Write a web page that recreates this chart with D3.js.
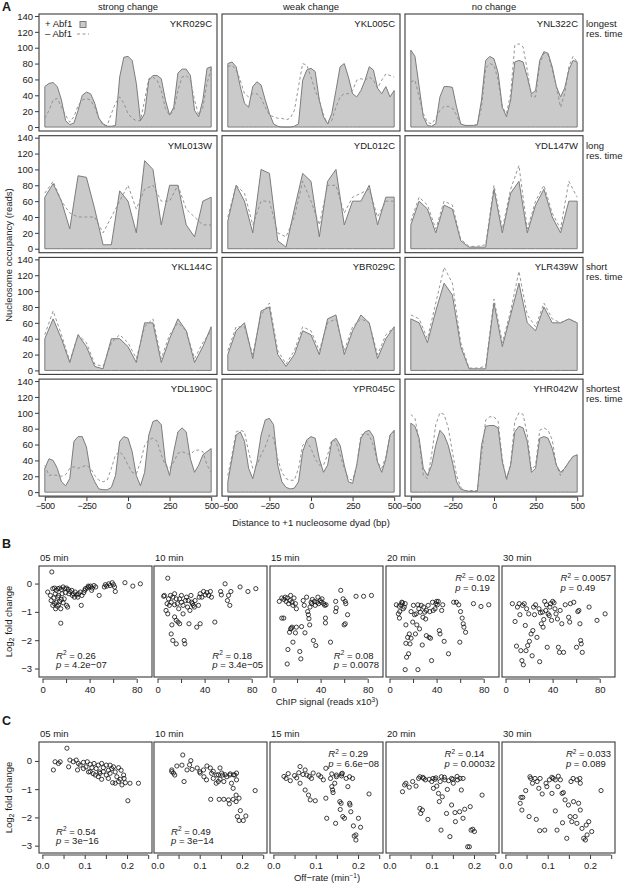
<!DOCTYPE html>
<html>
<head>
<meta charset="utf-8">
<script src="https://cdn.jsdelivr.net/npm/d3@7"></script>
<style>
body { margin: 0; background: #fff; }
svg text { font-family: "Liberation Sans", Arial, Helvetica, sans-serif; font-size: 9.5px; fill: #1a1a1a; }
</style>
</head>
<body>
<svg id="fig" width="626" height="884"></svg>
<script>
// ---------------- panel A data (occupancy, reads) ----------------
const changeGroups = ["strong change", "weak change", "no change"];
const resTimes = [["longest", "res. time"], ["long", "res. time"], ["short", "res. time"], ["shortest", "res. time"]];
const geneRows = [
  ["YKR029C", "YKL005C", "YNL322C"],
  ["YML013W", "YDL012C", "YDL147W"],
  ["YKL144C", "YBR029C", "YLR439W"],
  ["YDL190C", "YPR045C", "YHR042W"]
];
const occTicks = [0, 20, 40, 60, 80, 100, 120, 140];
const bpTicks = [-500, -250, 0, 250, 500];

// values from -500 to +500 bp, evenly spaced
const ykr029c_plus  = [51,55,56,51,34,8,3,5,21,40,44,42,30,11,4,1,1,2,63,88,89,84,55,8,17,59,65,65,61,34,15,25,68,73,73,65,21,13,34,74,76];
const ykr029c_minus = [11,21,34,36,25,15,6,13,27,34,36,34,25,11,2,2,17,30,38,30,17,11,8,8,34,61,63,59,46,23,15,21,46,63,65,59,34,15,25,55,74];
const ykl005c_plus  = [80,82,76,51,30,25,51,57,53,34,17,4,1,0,0,0,1,4,59,72,74,70,34,13,4,17,46,76,80,63,42,38,46,59,76,72,49,42,51,38,46];
const ykl005c_minus = [76,78,72,59,42,38,42,42,36,25,15,13,11,11,9,11,21,51,80,78,63,46,34,15,4,8,25,38,42,42,46,59,61,59,63,59,49,59,67,65,63];
const ynl322c_plus  = [97,89,51,13,2,1,4,38,51,51,50,25,4,2,2,2,3,34,84,89,86,68,25,13,34,82,84,82,63,42,46,84,95,93,76,51,38,49,72,84,82];
const ynl322c_minus = [57,59,38,17,6,4,11,21,26,26,24,15,4,2,2,2,3,25,74,80,78,59,25,17,42,103,105,101,72,38,38,80,93,91,72,51,25,42,76,89,82];

const yml013w_plus  = [65,82,60,25,92,90,50,5,5,73,60,20,111,100,30,80,80,30,15,60,65];
const yml013w_minus = [70,85,60,45,40,40,40,20,40,60,80,50,75,80,60,60,80,50,40,30,30];
const ydl012c_plus  = [35,80,60,20,100,95,10,2,50,95,85,15,85,100,30,60,60,80,30,65,65];
const ydl012c_minus = [40,80,70,30,60,60,20,15,40,85,60,30,80,80,45,65,70,75,40,60,60];
const ydl147w_plus  = [30,60,50,20,55,50,10,2,2,2,75,20,70,85,20,55,75,40,20,60,60];
const ydl147w_minus = [35,65,55,25,60,55,12,3,3,5,80,25,75,105,25,60,80,45,25,85,65];
const ykl144c_plus  = [40,65,40,10,45,30,5,2,40,40,30,10,60,60,10,40,65,50,10,30,55];
const ykl144c_minus = [45,75,45,12,45,35,8,5,35,45,35,15,55,65,15,45,60,50,15,35,50];
const ybr029c_plus  = [20,50,60,15,75,80,20,5,20,50,45,20,65,70,20,50,70,60,15,40,55];
const ybr029c_minus = [25,55,55,20,70,85,25,8,25,55,50,25,60,65,25,55,65,60,20,45,55];
const ylr439w_plus  = [65,60,35,75,110,95,30,2,2,2,85,30,70,110,60,50,80,60,60,65,60];
const ylr439w_minus = [70,65,40,85,130,110,35,3,3,5,90,35,75,125,70,55,85,65,60,65,60];

const ydl190c_plus  = [30,42,40,30,13,8,17,64,70,70,57,25,13,4,3,3,6,21,64,70,68,51,21,8,25,72,89,91,85,38,21,51,76,81,76,42,25,34,47,51,55];
const ydl190c_minus = [34,21,22,21,20,22,30,32,30,32,34,30,21,15,13,15,30,47,51,45,34,25,23,38,59,66,68,64,47,34,30,38,49,51,49,47,53,53,51,34,25];
const ypr045c_plus  = [13,42,72,76,64,30,17,38,72,91,93,85,34,13,6,4,5,13,51,66,70,68,42,25,34,64,68,59,34,13,11,34,68,76,78,70,38,25,42,72,78];
const ypr045c_minus = [21,47,76,78,76,51,30,34,47,57,72,68,42,25,17,15,15,30,59,64,55,42,34,34,47,66,64,47,30,17,15,34,72,74,72,59,38,30,45,72,76];
const yhr042w_plus  = [87,83,68,30,21,34,59,78,72,59,38,13,4,2,1,1,1,59,83,84,84,81,38,17,34,76,83,81,64,25,30,68,70,68,55,34,25,30,38,45,47];
const yhr042w_minus = [98,93,64,21,17,47,85,100,98,81,51,21,6,2,2,2,2,47,91,95,95,89,42,15,36,89,100,98,72,28,34,78,81,78,66,34,21,30,38,45,47];

const occupancy = {
  YKR029C: [ykr029c_plus, ykr029c_minus], YKL005C: [ykl005c_plus, ykl005c_minus], YNL322C: [ynl322c_plus, ynl322c_minus],
  YML013W: [yml013w_plus, yml013w_minus], YDL012C: [ydl012c_plus, ydl012c_minus], YDL147W: [ydl147w_plus, ydl147w_minus],
  YKL144C: [ykl144c_plus, ykl144c_minus], YBR029C: [ybr029c_plus, ybr029c_minus], YLR439W: [ylr439w_plus, ylr439w_minus],
  YDL190C: [ydl190c_plus, ydl190c_minus], YPR045C: [ypr045c_plus, ypr045c_minus], YHR042W: [yhr042w_plus, yhr042w_minus]
};

// ---------------- panels B and C data ----------------
const timePoints = ["05 min", "10 min", "15 min", "20 min", "30 min"];

// [ChIP signal (reads x10^3), log2 fold change]
const chip05 = [[7.9,0.41],[4.4,-0.30],[6.7,-0.42],[8.7,-0.18],[10.2,-0.16],[10.8,-0.36],[11.7,-0.24],[13.1,-0.18],[13.7,-0.42],[14.6,-0.16],[16.0,-0.21],[16.6,-0.36],[17.5,-0.12],[19.0,-0.18],[19.5,-0.32],[20.4,-0.16],[21.9,-0.21],[22.4,-0.36],[23.3,-0.28],[24.8,-0.24],[25.4,-0.42],[26.2,-0.36],[27.1,-0.48],[27.7,-0.30],[29.2,-0.40],[30.0,-0.48],[30.6,-0.36],[32.1,-0.30],[33.5,-0.42],[35.0,-0.32],[35.9,-0.24],[36.4,-0.18],[37.9,-0.16],[38.8,-0.09],[39.4,-0.12],[40.8,-0.09],[41.7,-0.24],[42.3,-0.16],[43.7,-0.07],[45.2,-0.12],[48.1,-0.42],[52.5,-0.12],[53.4,-0.04],[54.5,-0.09],[56.3,-0.01],[57.4,-0.07],[59.2,0.03],[60.3,-0.04],[61.2,-0.12],[61.8,-0.28],[70.0,0.03],[76.7,-0.09],[83.1,-0.01],[7.3,-0.60],[8.7,-0.77],[9.6,-0.51],[10.2,-0.71],[11.1,-0.89],[11.7,-0.66],[12.5,-0.80],[13.1,-0.48],[13.7,-0.75],[14.6,-0.63],[15.5,-0.89],[16.0,-0.56],[17.5,-0.68],[18.4,-0.54],[20.4,-0.77],[21.3,-0.83],[15.5,-1.40],[32.9,-0.77]];
const chip10 = [[8.7,0.19],[5.2,-0.45],[7.2,-0.95],[8.7,-1.07],[10.1,-0.77],[11.0,-0.42],[11.6,-0.66],[12.2,-1.46],[11.6,-1.78],[13.0,-2.01],[15.9,-2.13],[14.5,-1.18],[15.9,-1.30],[17.4,-1.36],[18.8,-1.42],[13.0,-0.48],[14.5,-0.36],[15.9,-0.54],[16.8,-0.71],[18.0,-0.89],[18.8,-0.54],[20.3,-0.42],[21.7,-0.77],[22.6,-2.01],[23.2,-2.13],[23.8,-0.60],[24.6,-0.48],[25.5,-0.83],[26.7,-1.42],[27.5,-0.95],[28.4,-0.42],[29.0,-0.66],[29.6,-0.71],[30.4,-0.77],[31.3,-0.83],[31.9,-0.60],[33.3,-1.54],[34.8,-0.77],[36.2,-1.42],[35.4,-0.48],[36.2,-0.36],[37.7,-0.48],[39.1,-0.28],[40.6,-0.40],[42.0,-0.32],[43.5,-0.42],[44.9,-0.28],[45.8,-0.48],[48.7,-1.36],[53.6,-0.28],[54.2,-0.40],[57.4,-0.01],[59.4,-0.60],[60.3,-0.42],[61.4,-0.77],[62.3,-0.28],[70.1,-0.12],[76.8,-0.28],[83.5,-0.18],[5.8,-0.42],[8.1,-0.71],[9.3,-0.54],[14.5,-0.75],[20.3,-0.66],[26.1,-0.60],[21.7,-1.07]];
const chip15 = [[4.9,-0.63],[7.0,-0.51],[8.7,-0.56],[9.9,-0.48],[10.7,-0.63],[11.6,-0.51],[12.8,-0.71],[14.0,-0.60],[14.5,-0.42],[15.7,-0.66],[16.5,-0.77],[17.4,-0.51],[18.6,-0.71],[19.4,-0.89],[7.0,-1.22],[8.7,-1.22],[14.5,-1.60],[15.1,-1.58],[15.7,-1.54],[13.6,-1.72],[16.5,-2.07],[12.2,-2.33],[11.6,-2.84],[18.6,-1.74],[19.4,-1.54],[22.3,-2.40],[23.2,-2.66],[23.8,-1.52],[25.2,-0.60],[26.1,-0.77],[26.7,-1.74],[28.1,-0.48],[29.0,-0.99],[29.6,-1.10],[30.1,-1.24],[30.7,-1.46],[31.0,-0.83],[31.9,-0.66],[32.5,-0.71],[33.0,-0.56],[33.9,-2.01],[34.8,-0.63],[35.4,-0.77],[35.9,-2.19],[36.8,-0.66],[37.7,-0.48],[38.3,-0.71],[39.7,-0.60],[40.6,-0.66],[41.2,-0.54],[42.6,-0.71],[43.5,-0.77],[44.1,-1.22],[44.1,-1.39],[44.6,-0.75],[48.4,-2.07],[52.8,-0.63],[53.3,-0.86],[52.8,-0.99],[57.1,-0.24],[59.1,-0.54],[60.9,-0.63],[61.4,-0.71],[62.9,-1.10],[60.9,-1.42],[60.0,-1.46],[70.1,-0.45],[76.5,-0.45],[83.2,-0.42]];
const chip20 = [[5.8,-0.75],[7.5,-1.07],[8.4,-1.22],[9.6,-0.75],[10.4,-0.66],[11.0,-0.68],[11.6,-0.89],[8.7,-0.99],[12.5,-0.83],[13.3,-0.71],[13.9,-1.46],[13.9,-2.11],[14.5,-2.60],[13.3,-3.04],[15.4,-1.90],[16.2,-2.48],[16.8,-1.78],[17.4,-2.13],[18.3,-0.99],[18.3,-1.93],[19.7,-1.36],[20.3,-0.77],[21.2,-1.10],[22.0,-1.78],[22.6,-1.07],[23.2,-1.46],[24.1,-3.04],[24.1,-0.75],[24.9,-0.89],[25.5,-1.60],[26.1,-1.01],[26.9,-0.77],[27.8,-2.17],[28.4,-1.19],[29.0,-0.83],[29.9,-1.01],[30.7,-1.25],[31.3,-1.84],[31.3,-0.95],[32.8,-0.77],[33.6,-1.90],[34.2,-0.99],[34.8,-1.93],[35.7,-2.72],[36.5,-0.66],[37.1,-0.95],[38.6,-0.89],[39.4,-0.71],[40.0,-0.63],[40.6,-0.75],[41.4,-0.63],[42.3,-1.66],[42.9,-1.78],[44.3,-0.95],[45.2,-0.75],[46.4,-2.04],[50.1,-2.48],[54.5,-0.66],[56.8,-0.66],[58.8,-0.75],[60.3,-0.99],[61.7,-1.22],[62.6,-1.42],[63.2,-1.54],[64.6,-1.72],[59.7,-2.07],[71.3,-0.71],[77.7,-0.81],[84.3,-0.75],[8.1,-0.80]];
const chip30 = [[5.8,-0.71],[8.1,-1.34],[9.3,-2.21],[10.1,-0.83],[11.6,-0.71],[12.2,-1.10],[13.0,-2.37],[13.9,-2.72],[14.5,-0.77],[15.1,-2.87],[15.9,-0.71],[16.8,-1.48],[17.4,-2.37],[17.9,-0.89],[18.8,-2.19],[19.7,-1.07],[20.3,-2.04],[21.7,-1.78],[22.6,-2.55],[23.2,-1.66],[23.8,-0.83],[24.6,-1.10],[25.5,-0.75],[26.7,-1.90],[28.4,-0.89],[29.0,-2.76],[29.6,-1.03],[30.4,-1.42],[31.3,-1.01],[31.9,-1.54],[32.5,-1.27],[33.3,-0.63],[34.2,-0.95],[34.8,-0.75],[35.4,-2.25],[36.2,-1.07],[37.1,-1.13],[37.7,-0.83],[38.3,-0.71],[39.1,-1.30],[40.0,-0.63],[41.2,-0.68],[42.0,-0.89],[42.9,-1.07],[44.1,-1.25],[44.9,-2.25],[45.8,-2.43],[46.4,-0.95],[47.8,-1.42],[49.3,-2.43],[50.7,-0.75],[53.6,-1.19],[54.5,-1.36],[55.1,-0.71],[58.0,-0.66],[60.3,-2.25],[61.4,-0.99],[62.3,-0.95],[63.2,-1.42],[63.8,-2.01],[64.3,-2.13],[65.2,-2.43],[71.0,-0.83],[77.7,-1.30],[84.6,-1.07]];

// [off-rate (1/min), log2 fold change]
const off05 = [[0.026,-0.32],[0.083,-0.32],[0.113,-0.38],[0.125,-0.50],[0.132,-0.56],[0.136,-0.44],[0.140,-0.65],[0.144,-0.38],[0.151,-0.50],[0.156,-0.62],[0.160,-0.44],[0.166,-0.77],[0.172,-0.79],[0.176,-0.56],[0.180,-0.73],[0.184,-0.65],[0.188,-0.85],[0.193,-0.62],[0.196,-0.77],[0.207,-0.79],[0.227,-0.79],[0.202,-1.41],[0.058,0.45],[0.030,-0.03],[0.038,-0.09],[0.042,-0.03],[0.062,-0.21],[0.065,0.03],[0.073,-0.03],[0.080,0.03],[0.085,-0.09],[0.089,-0.15],[0.097,-0.05],[0.103,-0.21],[0.106,-0.03],[0.113,-0.12],[0.117,-0.24],[0.122,-0.09],[0.127,-0.27],[0.132,-0.15],[0.135,-0.39],[0.140,-0.09],[0.144,-0.24],[0.151,-0.15],[0.156,-0.33],[0.160,-0.15],[0.164,-0.27],[0.168,-0.21],[0.172,-0.39],[0.180,-0.24],[0.186,-0.33],[0.192,-0.50],[0.097,-0.27],[0.109,-0.39],[0.120,-0.45]];
const off10 = [[0.034,-0.38],[0.041,-0.50],[0.063,-0.73],[0.100,-0.38],[0.110,-0.56],[0.116,-0.67],[0.128,-0.44],[0.132,-0.62],[0.139,-0.79],[0.140,-0.50],[0.144,-0.73],[0.148,-0.65],[0.154,-0.50],[0.157,-0.73],[0.164,-0.56],[0.171,-0.50],[0.175,-0.79],[0.179,-0.97],[0.183,-0.50],[0.187,-0.67],[0.126,-1.36],[0.146,-1.36],[0.157,-1.36],[0.168,-1.38],[0.170,-1.52],[0.179,-1.36],[0.186,-1.44],[0.193,-1.32],[0.186,-1.21],[0.196,-1.76],[0.189,-1.97],[0.193,-2.11],[0.203,-2.11],[0.209,-1.95],[0.231,-1.05],[0.060,0.21],[0.079,0.01],[0.076,-0.14],[0.034,-0.32],[0.038,-0.43],[0.046,-0.18],[0.058,-0.15],[0.070,-0.32],[0.082,-0.30],[0.094,-0.25],[0.101,-0.43],[0.109,-0.32],[0.117,-0.18],[0.125,-0.25],[0.132,-0.37],[0.144,-0.49],[0.148,-0.25],[0.152,-0.43],[0.160,-0.49],[0.172,-0.46],[0.180,-0.49],[0.187,-0.43]];
const off15 = [[0.063,-0.79],[0.075,-1.03],[0.083,-1.21],[0.087,-1.38],[0.099,-1.41],[0.107,-0.50],[0.112,-0.56],[0.118,-0.67],[0.124,-1.32],[0.126,-2.03],[0.135,-0.62],[0.138,-0.91],[0.140,-1.03],[0.141,-1.12],[0.145,-0.79],[0.147,-2.21],[0.149,-0.56],[0.157,-1.44],[0.158,-1.72],[0.160,-1.50],[0.164,-1.97],[0.168,-2.03],[0.172,-0.62],[0.176,-0.91],[0.180,-1.50],[0.181,-1.56],[0.183,-1.80],[0.189,-2.30],[0.191,-2.66],[0.195,-2.80],[0.195,-2.62],[0.201,-2.03],[0.206,-2.35],[0.226,-1.17],[0.161,-0.53],[0.163,-0.44],[0.063,-0.20],[0.075,-0.32],[0.079,-0.50],[0.094,-0.43],[0.124,-0.26],[0.138,-0.46],[0.149,-0.50],[0.161,-0.46],[0.180,-0.56],[0.187,-0.62],[0.025,-0.55],[0.030,-0.62],[0.035,-0.45],[0.040,-0.70],[0.050,-0.52],[0.055,-0.60],[0.060,-0.42],[0.070,-0.48],[0.085,-0.55],[0.090,-0.62]];
const off20 = [[0.031,-1.09],[0.036,-0.85],[0.039,-0.79],[0.047,-0.93],[0.055,-0.73],[0.063,-0.89],[0.069,-0.62],[0.072,-1.68],[0.078,-1.74],[0.074,-1.86],[0.079,-0.58],[0.085,-0.67],[0.091,-2.07],[0.094,-0.65],[0.100,-0.73],[0.104,-0.97],[0.108,-0.65],[0.112,-0.89],[0.116,-1.15],[0.118,-1.44],[0.120,-0.73],[0.122,-2.45],[0.125,-1.27],[0.131,-0.67],[0.135,-1.86],[0.137,-1.01],[0.143,-2.68],[0.147,-1.56],[0.151,-0.79],[0.155,-1.83],[0.156,-2.15],[0.161,-0.67],[0.166,-1.80],[0.170,-1.03],[0.174,-2.03],[0.185,-3.04],[0.189,-3.04],[0.193,-2.45],[0.197,-2.42],[0.201,-2.50],[0.191,-1.62],[0.178,-1.71],[0.219,-1.21],[0.072,-0.56],[0.081,-0.62],[0.103,-0.62],[0.123,-0.56],[0.147,-0.62],[0.167,-0.62],[0.174,-0.62],[0.110,-0.60],[0.130,-0.58],[0.140,-0.70],[0.150,-0.65],[0.160,-0.55]];
const off30 = [[0.035,-1.50],[0.037,-1.29],[0.041,-1.29],[0.039,-1.74],[0.048,-1.05],[0.056,-1.97],[0.060,-0.62],[0.064,-0.79],[0.073,-2.07],[0.075,-0.73],[0.079,-0.97],[0.081,-2.47],[0.087,-1.17],[0.093,-2.45],[0.096,-0.79],[0.098,-0.91],[0.104,-0.67],[0.110,-1.15],[0.118,-1.77],[0.122,-2.45],[0.124,-0.91],[0.130,-0.67],[0.134,-1.15],[0.135,-2.19],[0.137,-1.12],[0.141,-1.38],[0.145,-2.74],[0.149,-1.56],[0.153,-1.97],[0.155,-0.73],[0.157,-2.15],[0.161,-1.44],[0.165,-1.97],[0.169,-2.21],[0.173,-1.50],[0.177,-1.74],[0.181,-2.39],[0.185,-2.74],[0.189,-2.80],[0.191,-2.27],[0.193,-2.62],[0.197,-2.15],[0.204,-2.50],[0.226,-1.05],[0.110,-0.58],[0.118,-0.67],[0.169,-0.67],[0.177,-0.79],[0.058,-0.56],[0.070,-0.62],[0.082,-0.62],[0.113,-0.62],[0.125,-0.54],[0.160,-0.62],[0.176,-0.62]];

const chipStats = [["0.26", "4.2e\u221207"], ["0.18", "3.4e\u221205"], ["0.08", "0.0078"], ["0.02", "0.19"], ["0.0057", "0.49"]];
const offStats  = [["0.54", "3e\u221216"], ["0.49", "3e\u221214"], ["0.29", "6.6e\u221208"], ["0.14", "0.00032"], ["0.033", "0.089"]];
const chipStatPos = ["bl", "br", "br", "tr", "tr"];
const offStatPos  = ["bl", "bl", "tr", "tr", "tr"];
const foldTicks = [0, -1, -2, -3];
const chipTicks = [0, 20, 40, 60, 80];
const chipLabels = [0, 40, 80];
const offTicks = [0, 0.05, 0.1, 0.15, 0.2, 0.25];
const offLabels = [0, 0.1, 0.2];

// ---------------- drawing ----------------
const svg = d3.select("#fig");
const boxColor = "#3a3a3a";

// panel letters
[["A", 11], ["B", 548], ["C", 725]].forEach(function(p) {
  svg.append("text").attr("x", 2).attr("y", p[1])
    .style("font-size", "12.5px").style("font-weight", "bold").text(p[0]);
});

// ---- A
const aLeft = [39, 222, 405], aW = 178, aH = 117, aTop0 = 14, aStep = 121.7;
const occX = d3.scaleLinear().domain([-535, 535]).range([0, aW]);
const occY = d3.scaleLinear().domain([-5, 142.5]).range([aH, 0]);

function bpOf(i, n) { return -500 + i * 1000 / (n - 1); }

changeGroups.forEach(function(g, c) {
  svg.append("text").attr("x", aLeft[c] + aW / 2).attr("y", 10)
    .attr("text-anchor", "middle").text(g);
});

geneRows.forEach(function(row, r) {
  const top = aTop0 + r * aStep;
  row.forEach(function(gene, c) {
    const pnl = svg.append("g").attr("transform", "translate(" + aLeft[c] + "," + top + ")");
    const plus = occupancy[gene][0], minus = occupancy[gene][1];
    const area = d3.area()
      .x(function(d, i) { return occX(bpOf(i, plus.length)); })
      .y0(occY(0))
      .y1(function(d) { return occY(d); });
    pnl.append("path").datum(plus).attr("d", area)
      .attr("fill", "#cacaca").attr("stroke", "#7c7c7c").attr("stroke-width", 1);
    const line = d3.line()
      .x(function(d, i) { return occX(bpOf(i, minus.length)); })
      .y(function(d) { return occY(d); });
    pnl.append("path").datum(minus).attr("d", line)
      .attr("fill", "none").attr("stroke", "#8a8a8a").attr("stroke-width", 0.9)
      .attr("stroke-dasharray", "3,2.5");
    pnl.append("rect").attr("x", 0).attr("y", 0).attr("width", aW).attr("height", aH)
      .attr("fill", "none").attr("stroke", boxColor).attr("stroke-width", 1.1);
    pnl.append("text").attr("x", aW - 5).attr("y", 13).attr("text-anchor", "end").text(gene);

    if (c === 0) {
      const ax = pnl.append("g").call(d3.axisLeft(occY).tickValues(occTicks).tickSize(4).tickPadding(2).tickFormat(d3.format("d")));
      ax.select(".domain").remove();
      ax.selectAll("line").attr("stroke", boxColor);
      ax.selectAll("text").style("font-size", "9.5px").attr("fill", "#1a1a1a").attr("dy", "0.34em");
    }
    if (r === geneRows.length - 1) {
      const ax = pnl.append("g").attr("transform", "translate(0," + (aH + 1) + ")")
        .call(d3.axisBottom(occX).tickValues(bpTicks).tickSize(4).tickPadding(2).tickFormat(d3.format("d")));
      ax.select(".domain").attr("d", "M" + occX(-500) + ",0H" + occX(500)).attr("stroke", boxColor);
      ax.selectAll("line").attr("stroke", boxColor);
      ax.selectAll("text").style("font-size", "9px").style("letter-spacing", "-0.4px").attr("fill", "#1a1a1a");
    }
    if (r === 0 && c === 0) {
      pnl.append("text").attr("x", 6).attr("y", 13).text("+ Abf1");
      pnl.append("rect").attr("x", 41).attr("y", 7.5).attr("width", 6).attr("height", 6)
        .attr("fill", "#cacaca").attr("stroke", "#7c7c7c");
      pnl.append("text").attr("x", 6).attr("y", 23).text("\u2013 Abf1");
      pnl.append("line").attr("x1", 38).attr("x2", 50).attr("y1", 20).attr("y2", 20)
        .attr("stroke", "#8a8a8a").attr("stroke-width", 0.9).attr("stroke-dasharray", "3,2.5");
    }
  });
  svg.append("text").attr("x", 586).attr("y", top + 13).text(resTimes[r][0]);
  svg.append("text").attr("x", 586).attr("y", top + 23).text(resTimes[r][1]);
});

svg.append("text").attr("transform", "translate(12," + (aTop0 + (3 * aStep + aH) / 2) + ") rotate(-90)")
  .attr("text-anchor", "middle").text("Nucleosome occupancy (reads)");
svg.append("text").attr("x", 311).attr("y", 526).attr("text-anchor", "middle")
  .text("Distance to +1 nucleosome dyad (bp)");

// ---- B and C
const sLeft = [39, 154, 270, 386, 502], sW = 113, sH = 111;
const chipX = d3.scaleLinear().domain([-3, 93]).range([0, sW]);
const offX = d3.scaleLinear().domain([-0.008, 0.259]).range([0, sW]);

function statBlock(pnl, stat, pos) {
  const blk = pnl.append("g");
  const t1 = blk.append("text").attr("x", 0).attr("y", 0);
  t1.append("tspan").style("font-style", "italic").text("R");
  t1.append("tspan").attr("dy", -3.5).style("font-size", "6.5px").text("2");
  t1.append("tspan").attr("dy", 3.5).text(" = " + stat[0]);
  const t2 = blk.append("text").attr("x", 0).attr("y", 9.5);
  t2.append("tspan").style("font-style", "italic").text("p");
  t2.append("tspan").text(" = " + stat[1]);
  const w = Math.max(t1.node().getComputedTextLength(), t2.node().getComputedTextLength());
  const bx = pos[1] === "l" ? 17 : sW - 4 - w;
  const by = pos[0] === "t" ? 15 : sH - 18.5;
  blk.attr("transform", "translate(" + bx + "," + by + ")");
}

function scatterRow(top, sets, xScale, xTicks, xLabels, xFmt, stats, statPos, yDom, xTitle, xTitleY) {
  const y = d3.scaleLinear().domain(yDom).range([sH, 0]);
  sets.forEach(function(pts, k) {
    const pnl = svg.append("g").attr("transform", "translate(" + sLeft[k] + "," + top + ")");
    svg.append("text").attr("x", sLeft[k] + 1).attr("y", top - 5).text(timePoints[k]);
    pnl.append("g").selectAll("circle").data(pts).enter().append("circle")
      .attr("cx", function(d) { return xScale(d[0]); })
      .attr("cy", function(d) { return y(d[1]); })
      .attr("r", 2.1).attr("fill", "none").attr("stroke", "#111").attr("stroke-width", 0.8);
    pnl.append("rect").attr("width", sW).attr("height", sH)
      .attr("fill", "none").attr("stroke", boxColor).attr("stroke-width", 1.1);
    statBlock(pnl, stats[k], statPos[k]);

    const ax = pnl.append("g").attr("transform", "translate(0," + (sH + 2) + ")")
      .call(d3.axisBottom(xScale).tickValues(xTicks).tickSize(4).tickPadding(3)
        .tickFormat(function(d) { return xLabels.some(function(v) { return Math.abs(v - d) < 1e-9; }) ? xFmt(d) : ""; }));
    ax.select(".domain").attr("d", "M" + xScale(xTicks[0]) + ",0H" + xScale(xTicks[xTicks.length - 1])).attr("stroke", boxColor);
    ax.selectAll("line").attr("stroke", boxColor);
    ax.selectAll("text").style("font-size", "9.5px").attr("fill", "#1a1a1a");

    if (k === 0) {
      const ay = pnl.append("g").call(d3.axisLeft(y).tickValues(foldTicks).tickSize(4).tickPadding(3).tickFormat(d3.format("d")));
      ay.select(".domain").remove();
      ay.selectAll("line").attr("stroke", boxColor);
      ay.selectAll("text").style("font-size", "9.5px").attr("fill", "#1a1a1a");
    }
  });
  const lab = svg.append("text").attr("transform", "translate(12," + (top + sH / 2) + ") rotate(-90)")
    .attr("text-anchor", "middle");
  lab.append("tspan").text("Log");
  lab.append("tspan").attr("dy", 2).style("font-size", "7px").text("2");
  lab.append("tspan").attr("dy", -2).text(" fold change");
  const xt = svg.append("text").attr("x", 327).attr("y", xTitleY).attr("text-anchor", "middle");
  xTitle(xt);
}

scatterRow(566, [chip05, chip10, chip15, chip20, chip30], chipX, chipTicks, chipLabels, d3.format("d"),
  chipStats, chipStatPos, [-3.30, 0.62],
  function(t) {
    t.append("tspan").text("ChIP signal (reads x10");
    t.append("tspan").attr("dy", -3.5).style("font-size", "6.5px").text("3");
    t.append("tspan").attr("dy", 3.5).text(")");
  }, 705);

scatterRow(742, [off05, off10, off15, off20, off30], offX, offTicks, offLabels, d3.format(".1f"),
  offStats, offStatPos, [-3.26, 0.67],
  function(t) {
    t.append("tspan").text("Off\u2212rate (min");
    t.append("tspan").attr("dy", -3.5).style("font-size", "6.5px").text("\u22121");
    t.append("tspan").attr("dy", 3.5).text(")");
  }, 881);
</script>
</body>
</html>
